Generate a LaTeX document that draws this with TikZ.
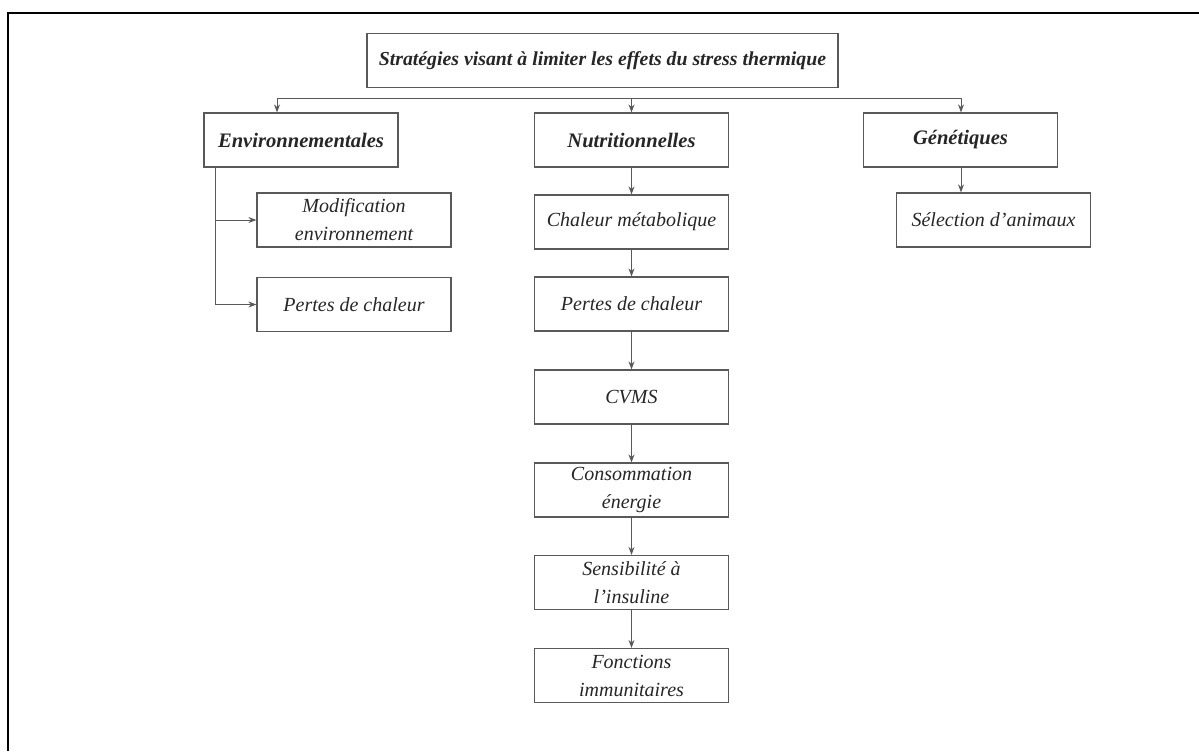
\documentclass[tikz,border=0pt]{standalone}
\usepackage{fontspec}
\setmainfont{Liberation Serif}
\usetikzlibrary{arrows.meta}

\tikzset{
  box/.style={draw=black!65, line width=0.6pt, minimum width=97pt, minimum height=27pt,
    inner sep=1pt, align=center, font=\fontsize{10}{14}\selectfont\itshape, text=black!85},
  head/.style={box, font=\fontsize{10.3}{14}\selectfont\bfseries\itshape},
  link/.style={draw=black!65, line width=0.5pt},
  arrow/.style={link, -{Stealth[length=4pt,width=3pt]}}
}

\begin{document}
\begin{tikzpicture}[x=0.5pt, y=-0.5pt]
\useasboundingbox (0,0) rectangle (1199,751);
\draw[line width=1.3pt] (8,751) -- (8,13) -- (1199,13);

\node[head, minimum width=235.5pt, font=\fontsize{9.9}{14}\selectfont\bfseries\itshape] (title) at (602.5,60.5) {Stratégies visant à limiter les effets du stress thermique};

\node[head] (env) at (301,140) {Environnementales};
\node[head] (nut) at (631.5,140) {Nutritionnelles};
\node[head] (gen) at (960.5,140) {Génétiques};

\node[box] (modif) at (354,220) {Modification\\environnement};
\node[box] (pertesE) at (354,304.5) {Pertes de chaleur};

\node[box] (chal) at (631.5,222) {Chaleur métabolique};
\node[box] (pertesN) at (631.5,304) {Pertes de chaleur};
\node[box] (cvms) at (631.5,397) {CVMS};
\node[box] (conso) at (631.5,490) {Consommation\\énergie};
\node[box] (sensi) at (631.5,582.5) {Sensibilité à\\l’insuline};
\node[box] (fonct) at (631.5,675.5) {Fonctions\\immunitaires};

\node[box] (sel) at (993.5,220) {Sélection d’animaux};

% branches
\coordinate (barL) at (277,98);
\coordinate (barR) at (961,98);
\draw[link] (barL) -- (barR);
\draw[arrow] (barL) -- (barL |- env.north);
\draw[arrow] (nut.north |- barL) -- (nut.north);
\draw[arrow] (barR) -- (barR |- gen.north);

% environnementales
\coordinate (envL) at (215,167);
\draw[arrow] (envL |- modif.west) -- (modif.west);
\draw[arrow] (envL) |- (pertesE.west);

% nutritionnelles
\foreach \a/\b in {nut/chal, chal/pertesN, pertesN/cvms, cvms/conso, conso/sensi, sensi/fonct}
  \draw[arrow] (\a.south) -- (\b.north);

% genetiques
\draw[arrow] (barR |- gen.south) -- (barR |- sel.north);
\end{tikzpicture}
\end{document}
